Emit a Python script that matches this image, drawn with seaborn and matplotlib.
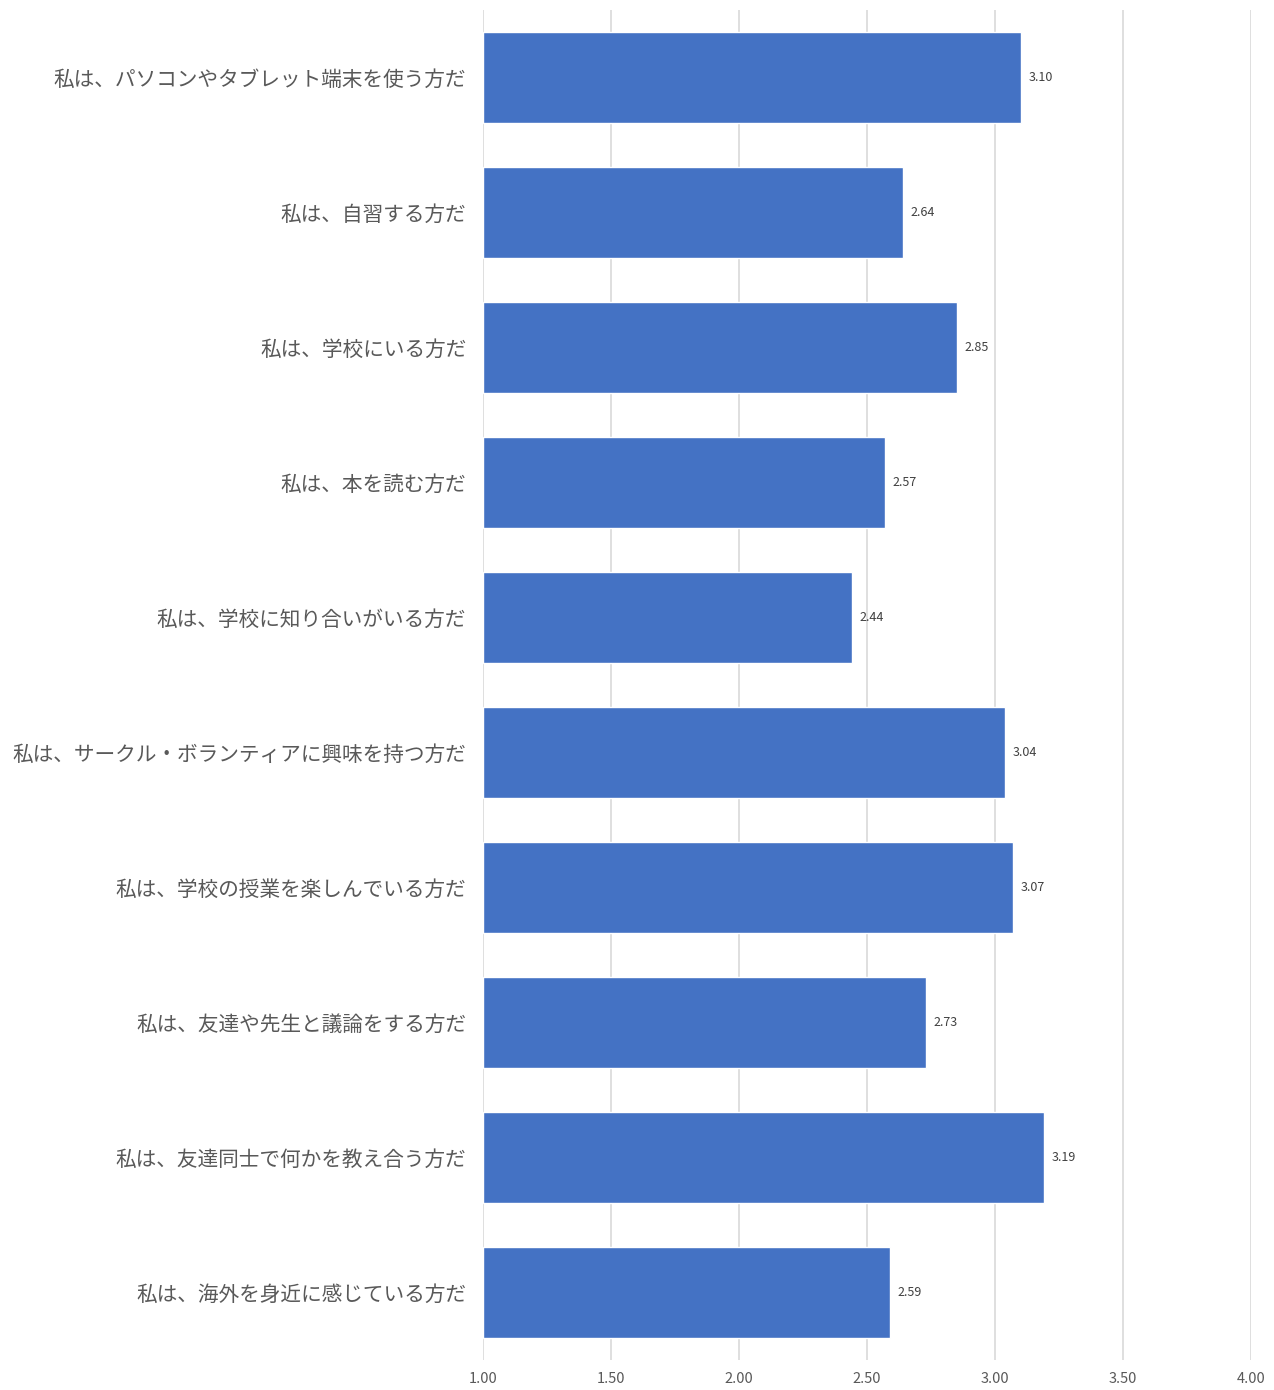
import matplotlib as mpl
mpl.use('Agg')
import matplotlib.pyplot as plt
import seaborn as sns
import pandas as pd

items = [
    '私は、パソコンやタブレット端末を使う方だ',
    '私は、自習する方だ',
    '私は、学校にいる方だ',
    '私は、本を読む方だ',
    '私は、学校に知り合いがいる方だ',
    '私は、サークル・ボランティアに興味を持つ方だ',
    '私は、学校の授業を楽しんでいる方だ',
    '私は、友達や先生と議論をする方だ',
    '私は、友達同士で何かを教え合う方だ',
    '私は、海外を身近に感じている方だ',
]
scores = [3.10, 2.64, 2.85, 2.57, 2.44, 3.04, 3.07, 2.73, 3.19, 2.59]
ticks = [1.0, 1.5, 2.0, 2.5, 3.0, 3.5, 4.0]

sns.set_style('white')
plt.rcParams['font.family'] = ['Noto Sans CJK JP', 'DejaVu Sans']

df = pd.DataFrame({'item': items, 'score': scores})
# bars start at 1.00 like the original axis
df['len'] = df['score'] - 1.0

fig = plt.figure(figsize=(12.74, 13.9), dpi=100)
ax = fig.add_axes([0.379, 0.0216, 0.603, 0.9712])

sns.barplot(data=df, y='item', x='len', left=1.0, color='#4472C4',
            saturation=1, width=0.674, orient='h', ax=ax, zorder=3)

ax.set_xlim(1.0, 4.0)
ax.set_ylim(len(items) - 0.5, -0.5)
ax.set_xticks(ticks)
ax.set_xticklabels(['%.2f' % t for t in ticks], fontsize=10.5, color='#595959')
ax.tick_params(axis='y', labelsize=14.9, labelcolor='#595959', length=0, pad=12)
ax.tick_params(axis='x', length=0, pad=9)
ax.set_xlabel('')
ax.set_ylabel('')
ax.grid(axis='x', color='#D9D9D9', linewidth=1.2, zorder=0)
for s in ax.spines.values():
    s.set_visible(False)

for i, v in enumerate(scores):
    ax.text(v + 0.03, i, '%.2f' % v, va='center', ha='left',
            fontsize=9, color='#404040')

plt.savefig('out.png', dpi=100)
